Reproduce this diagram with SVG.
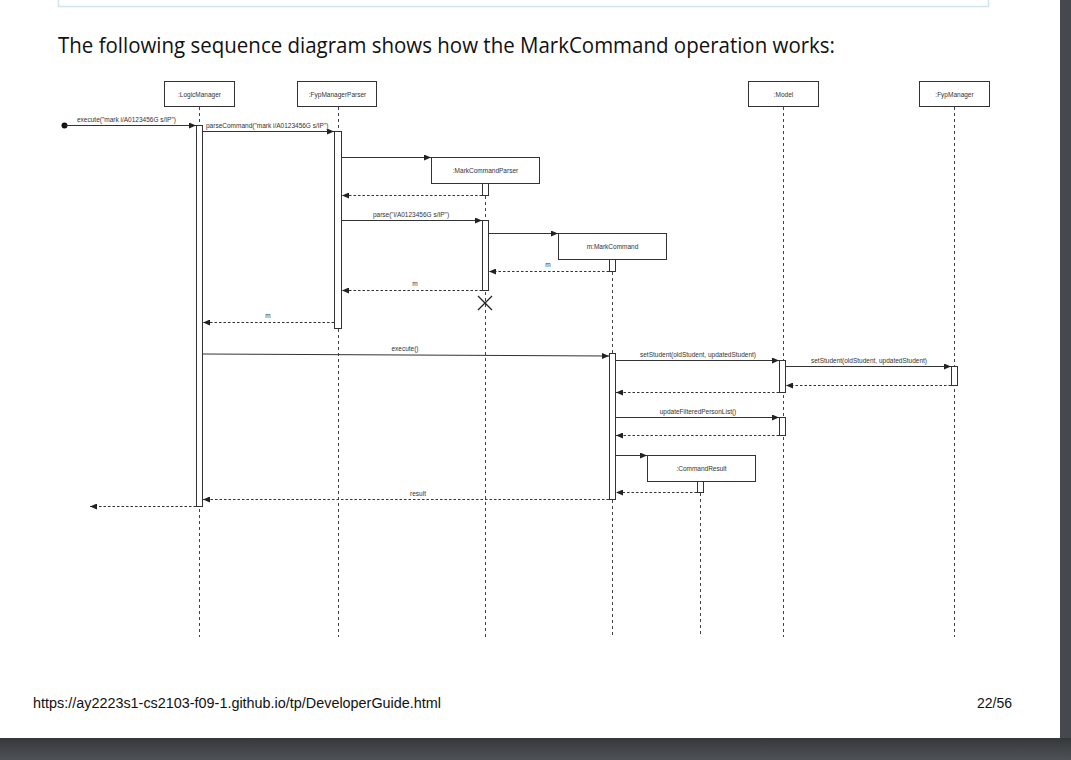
<svg xmlns="http://www.w3.org/2000/svg" width="1071" height="760" viewBox="0 0 1071 760">
<defs>
<style>
.box{fill:#fff;stroke:#333;stroke-width:1}
.act{fill:#fff;stroke:#333;stroke-width:1}
.life{stroke:#444;stroke-width:1;stroke-dasharray:3,3;fill:none}
.msg{stroke:#333;stroke-width:1;fill:none}
.ret{stroke:#333;stroke-width:1;fill:none;stroke-dasharray:2.5,2}
.lbl{font-family:"Liberation Sans",Arial,sans-serif;font-size:6.5px;fill:#333}
.nm{font-family:"Liberation Sans",Arial,sans-serif;font-size:6.5px;fill:#333;text-anchor:middle}
</style>
<marker id="ah" markerWidth="7" markerHeight="6" refX="7" refY="3" orient="auto" markerUnits="userSpaceOnUse">
<path d="M0,0 L7,3 L0,6 z" fill="#222"/>
</marker>
<linearGradient id="sh" x1="0" y1="0" x2="0" y2="1">
<stop offset="0" stop-color="#35383b"/>
<stop offset="1" stop-color="#4e5256"/>
</linearGradient>
</defs>
<rect x="0" y="0" width="1071" height="760" fill="#fff"/>
<rect x="1060" y="0" width="11" height="760" fill="#45494d"/>
<rect x="0" y="738" width="1071" height="22" fill="url(#sh)"/>
<rect x="58.5" y="-10" width="930" height="16.5" fill="none" stroke="#cfe4ef" stroke-width="1.5"/>
<text x="58" y="53" font-family="'Open Sans','Noto Sans',sans-serif" font-size="21" fill="#111" textLength="777" lengthAdjust="spacingAndGlyphs">The following sequence diagram shows how the MarkCommand operation works:</text>

<g id="LogicManager">
<rect class="box" x="164.5" y="81.5" width="70" height="25"/>
<text class="nm" x="199.5" y="96.5">:LogicManager</text>
<line class="life" x1="199.5" y1="107" x2="199.5" y2="637"/>
<rect class="act" x="196.5" y="125.5" width="6" height="381"/>
</g>
<g id="FypManagerParser">
<rect class="box" x="297.5" y="81.5" width="79" height="25"/>
<text class="nm" x="337.5" y="96.5">:FypManagerParser</text>
<line class="life" x1="338.5" y1="107" x2="338.5" y2="637"/>
<rect class="act" x="334.5" y="131.5" width="7" height="197"/>
</g>
<g id="MarkCommandParser">
<rect class="box" x="431.5" y="157.5" width="108" height="26"/>
<text class="nm" x="485.5" y="173">:MarkCommandParser</text>
<line class="life" x1="485.5" y1="184" x2="485.5" y2="637"/>
<rect class="act" x="482.5" y="183.5" width="6" height="12"/>
<rect class="act" x="482.5" y="220.5" width="6" height="70"/>
<path d="M478,296 L492,310 M492,296 L478,310" stroke="#222" stroke-width="1.3" fill="none"/>
</g>
<g id="MarkCommand">
<rect class="box" x="558.5" y="233.5" width="108" height="26"/>
<text class="nm" x="612.5" y="249">m:MarkCommand</text>
<line class="life" x1="612.5" y1="260" x2="612.5" y2="637"/>
<rect class="act" x="609.5" y="259.5" width="6" height="12"/>
<rect class="act" x="609.5" y="353.5" width="6" height="146"/>
</g>
<g id="Model">
<rect class="box" x="748.5" y="81.5" width="70" height="25"/>
<text class="nm" x="783.5" y="96.5">:Model</text>
<line class="life" x1="783.5" y1="107" x2="783.5" y2="637"/>
<rect class="act" x="779.5" y="360.5" width="6" height="32"/>
<rect class="act" x="779.5" y="417.5" width="6" height="18"/>
</g>
<g id="FypManager">
<rect class="box" x="919.5" y="81.5" width="70" height="25"/>
<text class="nm" x="954.5" y="96.5">:FypManager</text>
<line class="life" x1="954.5" y1="107" x2="954.5" y2="637"/>
<rect class="act" x="951.5" y="366.5" width="6" height="19"/>
</g>
<g id="CommandResult">
<rect class="box" x="647.5" y="455.5" width="108" height="26"/>
<text class="nm" x="701.5" y="471">:CommandResult</text>
<line class="life" x1="700.5" y1="493" x2="700.5" y2="637"/>
<rect class="act" x="697.5" y="481.5" width="6" height="11"/>
</g>

<g id="connectors">
<circle cx="64.5" cy="125.5" r="3" fill="#111"/>
<line class="msg" x1="64.5" y1="125.5" x2="196" y2="125.5" marker-end="url(#ah)"/>
<text class="lbl" x="77" y="122">execute("mark i/A0123456G s/IP")</text>
<line class="msg" x1="203" y1="131.5" x2="334" y2="131.5" marker-end="url(#ah)"/>
<text class="lbl" x="206" y="128">parseCommand("mark i/A0123456G s/IP")</text>
<line class="msg" x1="342" y1="157.5" x2="431" y2="157.5" marker-end="url(#ah)"/>
<line class="ret" x1="482" y1="195.5" x2="342" y2="195.5" marker-end="url(#ah)"/>
<line class="msg" x1="342" y1="220.5" x2="482" y2="220.5" marker-end="url(#ah)"/>
<text class="lbl" x="411" y="216.5" text-anchor="middle">parse("i/A0123456G s/IP")</text>
<line class="msg" x1="489" y1="233.5" x2="558" y2="233.5" marker-end="url(#ah)"/>
<line class="ret" x1="609" y1="271.5" x2="489" y2="271.5" marker-end="url(#ah)"/>
<text class="lbl" x="548" y="266.5" text-anchor="middle">m</text>
<line class="ret" x1="482" y1="290.5" x2="342" y2="290.5" marker-end="url(#ah)"/>
<text class="lbl" x="415" y="285.5" text-anchor="middle">m</text>
<line class="ret" x1="334" y1="322.5" x2="203" y2="322.5" marker-end="url(#ah)"/>
<text class="lbl" x="268" y="318" text-anchor="middle">m</text>
<line class="msg" x1="203" y1="354" x2="609" y2="356" marker-end="url(#ah)"/>
<text class="lbl" x="405" y="351" text-anchor="middle">execute()</text>
<line class="msg" x1="616" y1="360.5" x2="779" y2="360.5" marker-end="url(#ah)"/>
<text class="lbl" x="698" y="357" text-anchor="middle">setStudent(oldStudent, updatedStudent)</text>
<line class="msg" x1="786" y1="366.5" x2="951" y2="366.5" marker-end="url(#ah)"/>
<text class="lbl" x="869" y="363" text-anchor="middle">setStudent(oldStudent, updatedStudent)</text>
<line class="ret" x1="951" y1="385.5" x2="786" y2="385.5" marker-end="url(#ah)"/>
<line class="ret" x1="779" y1="392.5" x2="616" y2="392.5" marker-end="url(#ah)"/>
<line class="msg" x1="616" y1="417.5" x2="779" y2="417.5" marker-end="url(#ah)"/>
<text class="lbl" x="698" y="414" text-anchor="middle">updateFilteredPersonList()</text>
<line class="ret" x1="779" y1="435.5" x2="616" y2="435.5" marker-end="url(#ah)"/>
<line class="msg" x1="616" y1="455.5" x2="647" y2="455.5" marker-end="url(#ah)"/>
<line class="ret" x1="697" y1="492.5" x2="616" y2="492.5" marker-end="url(#ah)"/>
<line class="ret" x1="609" y1="499.5" x2="203" y2="499.5" marker-end="url(#ah)"/>
<text class="lbl" x="418" y="496" text-anchor="middle">result</text>
<line class="ret" x1="196" y1="506.5" x2="90" y2="506.5" marker-end="url(#ah)"/>
</g>

<text x="33" y="708" font-family="'Liberation Sans',Arial,sans-serif" font-size="14" fill="#111" textLength="408" lengthAdjust="spacingAndGlyphs">https://ay2223s1-cs2103-f09-1.github.io/tp/DeveloperGuide.html</text>
<text x="1012" y="708" font-family="'Liberation Sans',Arial,sans-serif" font-size="14" fill="#111" text-anchor="end">22/56</text>
</svg>
